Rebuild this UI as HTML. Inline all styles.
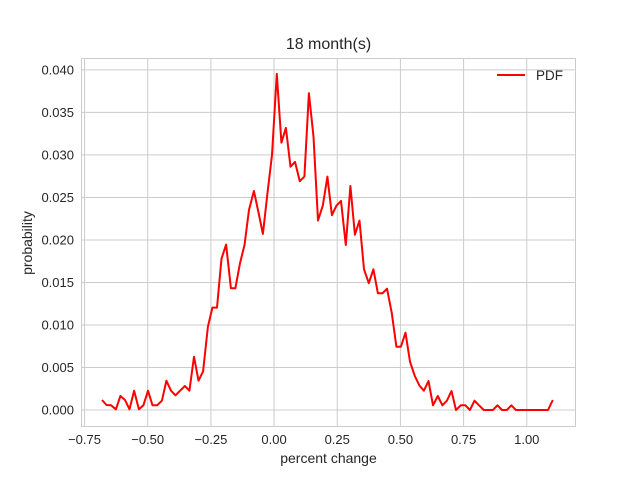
<!DOCTYPE html>
<html><head><meta charset="utf-8"><style>
html,body{margin:0;padding:0;background:#fff;}
svg{display:block;font-family:"Liberation Sans",sans-serif;}
</style></head><body>
<svg id="chart" width="640" height="480"></svg>
<script>
const xValues=[-0.681,-0.663,-0.645,-0.626,-0.608,-0.590,-0.572,-0.554,-0.535,-0.517,-0.499,-0.481,-0.463,-0.444,-0.426,-0.408,-0.390,-0.372,-0.353,-0.335,-0.317,-0.299,-0.281,-0.262,-0.244,-0.226,-0.208,-0.190,-0.171,-0.153,-0.135,-0.117,-0.099,-0.080,-0.062,-0.044,-0.026,-0.008,0.011,0.029,0.047,0.065,0.083,0.102,0.120,0.138,0.156,0.174,0.193,0.211,0.229,0.247,0.265,0.284,0.302,0.320,0.338,0.356,0.375,0.393,0.411,0.429,0.447,0.466,0.484,0.502,0.520,0.538,0.557,0.575,0.593,0.611,0.629,0.648,0.666,0.684,0.702,0.720,0.739,0.757,0.775,0.793,0.811,0.830,0.848,0.866,0.884,0.902,0.921,0.939,0.957,0.975,0.993,1.012,1.030,1.048,1.066,1.084,1.103];
const pdfValues=[0.00118,0.00059,0.00055,0.00008,0.00165,0.00118,0.00008,0.00227,0.00008,0.00055,
0.00227,0.00055,0.00055,0.00109,0.00345,0.00227,0.00173,0.00227,0.00282,0.00227,
0.00627,0.00345,0.00455,0.0098,0.01204,0.01204,0.0178,0.01945,0.01432,0.01432,
0.01726,0.01941,0.02353,0.02576,0.02329,0.02071,0.02553,0.03,0.03953,0.03145,
0.03318,0.02862,0.02918,0.02691,0.02745,0.03726,0.03215,0.02227,0.02404,0.02745,
0.02291,0.02404,0.02459,0.01941,0.02635,0.02062,0.02227,0.01655,0.01491,0.01655,
0.01373,0.01373,0.01427,0.01138,0.00745,0.00745,0.00909,0.00568,0.004,0.00288,
0.00227,0.00341,0.00055,0.00165,0.00055,0.00109,0.00224,0,0.00055,0.00055,
0,0.00109,0.00055,0,0,0,0.00055,0,0,0.00055,
0,0,0,0,0,0,0,0,0.00118];
const xTicks=[-0.75,-0.5,-0.25,0,0.25,0.5,0.75,1.0];
const xTickLabels=["\u22120.75","\u22120.50","\u22120.25","0.00","0.25","0.50","0.75","1.00"];
const yTicks=[0,0.005,0.01,0.015,0.02,0.025,0.03,0.035,0.04];
const yTickLabels=["0.000","0.005","0.010","0.015","0.020","0.025","0.030","0.035","0.040"];

const L=81,R=576,T=58,B=427;
const xMin=-0.7640,xMax=1.1948,yMin=-0.0020,yMax=0.0414;
const sx=v=>L+(v-xMin)/(xMax-xMin)*(R-L);
const sy=v=>B-(v-yMin)/(yMax-yMin)*(B-T);
const NS="http://www.w3.org/2000/svg";
const svg=document.getElementById('chart');
function mk(tag,attrs,parent){const e=document.createElementNS(NS,tag);for(const k in attrs)e.setAttribute(k,attrs[k]);(parent||svg).appendChild(e);return e;}

const grid=mk('g',{});


xTicks.forEach((t,i)=>{
  const x=sx(t);
  const gl=mk('line',{x1:x,x2:x,y1:T,y2:B,stroke:'#cccccc','stroke-width':1},grid);
  
  
  const tl=mk('text',{x:x,y:B+17,'text-anchor':'middle','font-size':13,fill:'#262626'});
  tl.textContent=xTickLabels[i];
  
  
});
yTicks.forEach((t,i)=>{
  const y=sy(t);
  const gl=mk('line',{x1:L,x2:R,y1:y,y2:y,stroke:'#cccccc','stroke-width':1},grid);
  
  
  const tl=mk('text',{x:L-7,y:y+4.5,'text-anchor':'end','font-size':13,fill:'#262626'});
  tl.textContent=yTickLabels[i];
  
  
});
const frame=mk('rect',{x:L+0.5,y:T+0.5,width:R-L-1,height:B-T-1,fill:'none',stroke:'#cccccc','stroke-width':1});



const pts=xValues.map((x,i)=>sx(x).toFixed(1)+','+sy(pdfValues[i]).toFixed(1)).join(' ');
const line=mk('polyline',{points:pts,fill:'none',stroke:'#ff0000','stroke-width':2,'stroke-linejoin':'round'});



const title=mk('text',{x:(L+R)/2,y:49,'text-anchor':'middle','font-size':16,fill:'#262626'});
title.textContent='18 month(s)';


const xl=mk('text',{x:(L+R)/2,y:463,'text-anchor':'middle','font-size':14,fill:'#262626'});
xl.textContent='percent change';


const yl=mk('text',{x:0,y:0,'text-anchor':'middle','font-size':14,fill:'#262626',transform:'translate(32,243) rotate(-90)'});
yl.textContent='probability';



const leg=mk('g',{});


mk('line',{x1:497,x2:525,y1:75,y2:75,stroke:'#ff0000','stroke-width':2},leg);
const lt=mk('text',{x:536,y:80,'font-size':13.5,fill:'#262626'},leg);
lt.textContent='PDF';
</script>
</body></html>
